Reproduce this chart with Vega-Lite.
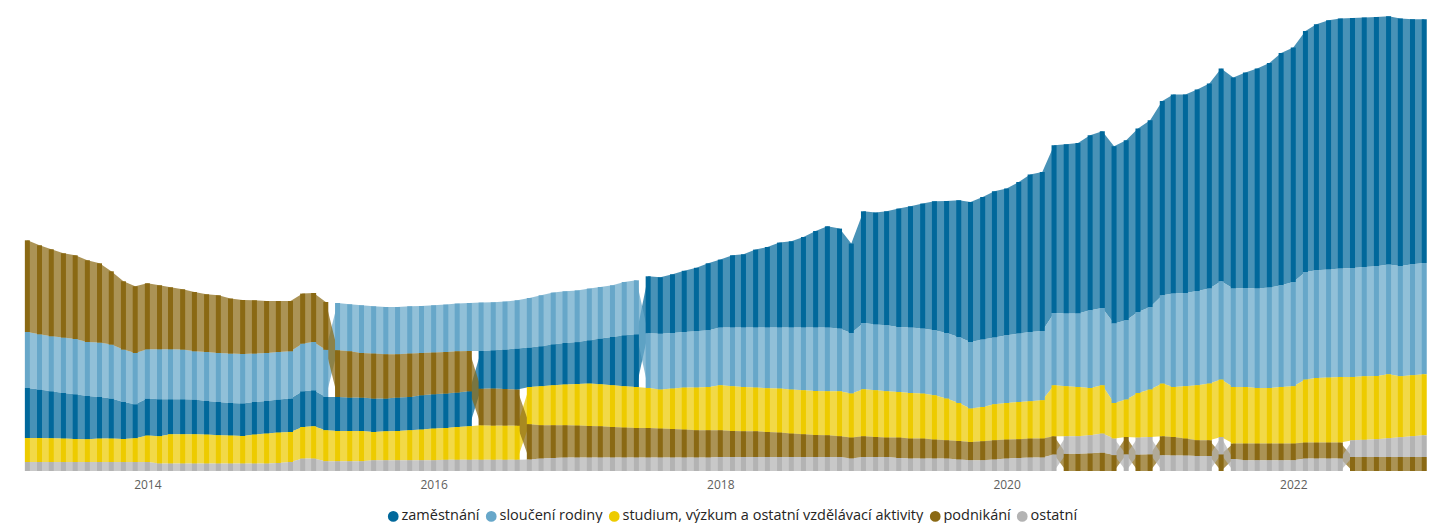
{
  "$schema": "https://vega.github.io/schema/vega-lite/v6.json",
  "width": 1432,
  "height": 471,
  "padding": 0,
  "autosize": {"type": "pad"},
  "background": "white",
  "config": {"view": {"stroke": null}},
  "data": {"values": [
    {"mesic": "2013/03/01", "zaměstnání": 50, "sloučení rodiny": 56, "studium, výzkum a ostatní vzdělávací aktivity": 24, "podnikání": 91.7, "ostatní": 9},
    {"mesic": "2013/04/01", "zaměstnání": 48.4, "sloučení rodiny": 55.3, "studium, výzkum a ostatní vzdělávací aktivity": 24, "podnikání": 89, "ostatní": 9},
    {"mesic": "2013/05/01", "zaměstnání": 47, "sloučení rodiny": 55, "studium, výzkum a ostatní vzdělávací aktivity": 23.7, "podnikání": 87, "ostatní": 9},
    {"mesic": "2013/06/01", "zaměstnání": 45.6, "sloučení rodiny": 55.4, "studium, výzkum a ostatní vzdělávací aktivity": 23.4, "podnikání": 84.3, "ostatní": 9},
    {"mesic": "2013/07/01", "zaměstnání": 44.7, "sloučení rodiny": 55.3, "studium, výzkum a ostatní vzdělávací aktivity": 23, "podnikání": 83.7, "ostatní": 9},
    {"mesic": "2013/08/01", "zaměstnání": 43.3, "sloučení rodiny": 54, "studium, výzkum a ostatní vzdělávací aktivity": 22.7, "podnikání": 81.7, "ostatní": 9},
    {"mesic": "2013/09/01", "zaměstnání": 41.6, "sloučení rodiny": 54.4, "studium, výzkum a ostatní vzdělávací aktivity": 23.4, "podnikání": 79.3, "ostatní": 9},
    {"mesic": "2013/10/01", "zaměstnání": 40, "sloučení rodiny": 54, "studium, výzkum a ostatní vzdělávací aktivity": 23.4, "podnikání": 73.3, "ostatní": 9},
    {"mesic": "2013/11/01", "zaměstnání": 37, "sloučení rodiny": 52.4, "studium, výzkum a ostatní vzdělávací aktivity": 23, "podnikání": 68.3, "ostatní": 9},
    {"mesic": "2013/12/01", "zaměstnání": 34, "sloučení rodiny": 51.3, "studium, výzkum a ostatní vzdělávací aktivity": 23.7, "podnikání": 66.7, "ostatní": 9},
    {"mesic": "2014/01/01", "zaměstnání": 37, "sloučení rodiny": 49.3, "studium, výzkum a ostatní vzdělávací aktivity": 26.4, "podnikání": 66, "ostatní": 9},
    {"mesic": "2014/02/01", "zaměstnání": 37, "sloučení rodiny": 50, "studium, výzkum a ostatní vzdělávací aktivity": 27.3, "podnikání": 64, "ostatní": 7.4},
    {"mesic": "2014/03/01", "zaměstnání": 35, "sloučení rodiny": 50, "studium, výzkum a ostatní vzdělávací aktivity": 29.3, "podnikání": 62, "ostatní": 7.4},
    {"mesic": "2014/04/01", "zaměstnání": 35, "sloučení rodiny": 49.7, "studium, výzkum a ostatní vzdělávací aktivity": 29.3, "podnikání": 60.3, "ostatní": 7.4},
    {"mesic": "2014/05/01", "zaměstnání": 34.7, "sloučení rodiny": 48.3, "studium, výzkum a ostatní vzdělávací aktivity": 29.3, "podnikání": 59.3, "ostatní": 7.4},
    {"mesic": "2014/06/01", "zaměstnání": 33.6, "sloučení rodiny": 49, "studium, výzkum a ostatní vzdělávací aktivity": 29, "podnikání": 57.7, "ostatní": 7.4},
    {"mesic": "2014/07/01", "zaměstnání": 33.3, "sloučení rodiny": 49, "studium, výzkum a ostatní vzdělávací aktivity": 28.3, "podnikání": 57.7, "ostatní": 7.4},
    {"mesic": "2014/08/01", "zaměstnání": 32.6, "sloučení rodiny": 49.4, "studium, výzkum a ostatní vzdělávací aktivity": 28, "podnikání": 55, "ostatní": 7.4},
    {"mesic": "2014/09/01", "zaměstnání": 32.6, "sloučení rodiny": 49.4, "studium, výzkum a ostatní vzdělávací aktivity": 27.6, "podnikání": 54, "ostatní": 7.4},
    {"mesic": "2014/10/01", "zaměstnání": 32.6, "sloučení rodiny": 48.4, "studium, výzkum a ostatní vzdělávací aktivity": 29, "podnikání": 53.3, "ostatní": 7.4},
    {"mesic": "2014/11/01", "zaměstnání": 32.6, "sloučení rodiny": 48, "studium, výzkum a ostatní vzdělávací aktivity": 30, "podnikání": 52, "ostatní": 7.4},
    {"mesic": "2014/12/01", "zaměstnání": 33, "sloučení rodiny": 47.6, "studium, výzkum a ostatní vzdělávací aktivity": 30.4, "podnikání": 51, "ostatní": 8},
    {"mesic": "2015/01/01", "zaměstnání": 33.4, "sloučení rodiny": 47.3, "studium, výzkum a ostatní vzdělávací aktivity": 30, "podnikání": 50.3, "ostatní": 9},
    {"mesic": "2015/02/01", "zaměstnání": 35.7, "sloučení rodiny": 47.7, "studium, výzkum a ostatní vzdělávací aktivity": 31.6, "podnikání": 50, "ostatní": 12.4},
    {"mesic": "2015/03/01", "zaměstnání": 36, "sloučení rodiny": 48.3, "studium, výzkum a ostatní vzdělávací aktivity": 32.3, "podnikání": 49, "ostatní": 12.4},
    {"mesic": "2015/04/01", "zaměstnání": 33.3, "sloučení rodiny": 47.2, "studium, výzkum a ostatní vzdělávací aktivity": 31, "podnikání": 47.8, "ostatní": 9.7},
    {"mesic": "2015/05/01", "zaměstnání": 34, "sloučení rodiny": 47.3, "studium, výzkum a ostatní vzdělávací aktivity": 30.3, "podnikání": 46.7, "ostatní": 9.7},
    {"mesic": "2015/06/01", "zaměstnání": 33.4, "sloučení rodiny": 47, "studium, výzkum a ostatní vzdělávací aktivity": 30.3, "podnikání": 46.3, "ostatní": 9.7},
    {"mesic": "2015/07/01", "zaměstnání": 33.4, "sloučení rodiny": 47.7, "studium, výzkum a ostatní vzdělávací aktivity": 30.3, "podnikání": 44.6, "ostatní": 9.7},
    {"mesic": "2015/08/01", "zaměstnání": 33.4, "sloučení rodiny": 47.3, "studium, výzkum a ostatní vzdělávací aktivity": 28.3, "podnikání": 45, "ostatní": 10.7},
    {"mesic": "2015/09/01", "zaměstnání": 32.7, "sloučení rodiny": 47.3, "studium, výzkum a ostatní vzdělávací aktivity": 29, "podnikání": 44.3, "ostatní": 10.7},
    {"mesic": "2015/10/01", "zaměstnání": 33.4, "sloučení rodiny": 47.3, "studium, výzkum a ostatní vzdělávací aktivity": 29.3, "podnikání": 43.3, "ostatní": 10.7},
    {"mesic": "2015/11/01", "zaměstnání": 33.3, "sloučení rodiny": 47.3, "studium, výzkum a ostatní vzdělávací aktivity": 30, "podnikání": 43.4, "ostatní": 10.7},
    {"mesic": "2015/12/01", "zaměstnání": 34.3, "sloučení rodiny": 47, "studium, výzkum a ostatní vzdělávací aktivity": 30.7, "podnikání": 42.3, "ostatní": 10.7},
    {"mesic": "2016/01/01", "zaměstnání": 34.3, "sloučení rodiny": 47.3, "studium, výzkum a ostatní vzdělávací aktivity": 31.7, "podnikání": 41.7, "ostatní": 10.7},
    {"mesic": "2016/02/01", "zaměstnání": 34.4, "sloučení rodiny": 47.4, "studium, výzkum a ostatní vzdělávací aktivity": 31.8, "podnikání": 41.6, "ostatní": 11.2},
    {"mesic": "2016/03/01", "zaměstnání": 34.4, "sloučení rodiny": 47.7, "studium, výzkum a ostatní vzdělávací aktivity": 32.8, "podnikání": 41.3, "ostatní": 11.2},
    {"mesic": "2016/04/01", "zaměstnání": 35, "sloučení rodiny": 48, "studium, výzkum a ostatní vzdělávací aktivity": 33.5, "podnikání": 40.3, "ostatní": 11.2},
    {"mesic": "2016/05/01", "zaměstnání": 37.8, "sloučení rodiny": 48.4, "studium, výzkum a ostatní vzdělávací aktivity": 34.5, "podnikání": 36.5, "ostatní": 11.2},
    {"mesic": "2016/06/01", "zaměstnání": 38.3, "sloučení rodiny": 48, "studium, výzkum a ostatní vzdělávací aktivity": 34.2, "podnikání": 37, "ostatní": 11.2},
    {"mesic": "2016/07/01", "zaměstnání": 39.4, "sloučení rodiny": 48, "studium, výzkum a ostatní vzdělávací aktivity": 34.2, "podnikání": 36.6, "ostatní": 11.2},
    {"mesic": "2016/08/01", "zaměstnání": 41, "sloučení rodiny": 48.3, "studium, výzkum a ostatní vzdělávací aktivity": 34.2, "podnikání": 36, "ostatní": 11.2},
    {"mesic": "2016/09/01", "zaměstnání": 39.4, "sloučení rodiny": 49.6, "studium, výzkum a ostatní vzdělávací aktivity": 37.3, "podnikání": 35.3, "ostatní": 11.4},
    {"mesic": "2016/10/01", "zaměstnání": 40, "sloučení rodiny": 51, "studium, výzkum a ostatní vzdělávací aktivity": 39, "podnikání": 33.3, "ostatní": 12.4},
    {"mesic": "2016/11/01", "zaměstnání": 41, "sloučení rodiny": 51.7, "studium, výzkum a ostatní vzdělávací aktivity": 40, "podnikání": 32.7, "ostatní": 13},
    {"mesic": "2016/12/01", "zaměstnání": 41.5, "sloučení rodiny": 51.7, "studium, výzkum a ostatní vzdělávací aktivity": 40.8, "podnikání": 32.3, "ostatní": 13.4},
    {"mesic": "2017/01/01", "zaměstnání": 42, "sloučení rodiny": 51.7, "studium, výzkum a ostatní vzdělávací aktivity": 41.5, "podnikání": 32, "ostatní": 13.4},
    {"mesic": "2017/02/01", "zaměstnání": 43.3, "sloučení rodiny": 51.7, "studium, výzkum a ostatní vzdělávací aktivity": 42.4, "podnikání": 31.6, "ostatní": 13.4},
    {"mesic": "2017/03/01", "zaměstnání": 45.7, "sloučení rodiny": 51.6, "studium, výzkum a ostatní vzdělávací aktivity": 42, "podnikání": 31.3, "ostatní": 13.4},
    {"mesic": "2017/04/01", "zaměstnání": 48.3, "sloučení rodiny": 51.7, "studium, výzkum a ostatní vzdělávací aktivity": 41.7, "podnikání": 30.6, "ostatní": 13.4},
    {"mesic": "2017/05/01", "zaměstnání": 51, "sloučení rodiny": 53.3, "studium, výzkum a ostatní vzdělávací aktivity": 41.3, "podnikání": 30, "ostatní": 13.4},
    {"mesic": "2017/06/01", "zaměstnání": 52.7, "sloučení rodiny": 54, "studium, výzkum a ostatní vzdělávací aktivity": 41, "podnikání": 29.6, "ostatní": 13.4},
    {"mesic": "2017/07/01", "zaměstnání": 57, "sloučení rodiny": 54.7, "studium, výzkum a ostatní vzdělávací aktivity": 40, "podnikání": 29.6, "ostatní": 13.4},
    {"mesic": "2017/08/01", "zaměstnání": 56.5, "sloučení rodiny": 55.8, "studium, výzkum a ostatní vzdělávací aktivity": 39, "podnikání": 29, "ostatní": 13.4},
    {"mesic": "2017/09/01", "zaměstnání": 58.7, "sloučení rodiny": 55.6, "studium, výzkum a ostatní vzdělávací aktivity": 40.4, "podnikání": 28.6, "ostatní": 13.4},
    {"mesic": "2017/10/01", "zaměstnání": 61.2, "sloučení rodiny": 55.6, "studium, výzkum a ostatní vzdělávací aktivity": 42, "podnikání": 28, "ostatní": 13.4},
    {"mesic": "2017/11/01", "zaměstnání": 63.5, "sloučení rodiny": 56.3, "studium, výzkum a ostatní vzdělávací aktivity": 42.7, "podnikání": 27.3, "ostatní": 13.4},
    {"mesic": "2017/12/01", "zaměstnání": 67, "sloučení rodiny": 56.7, "studium, výzkum a ostatní vzdělávací aktivity": 43.3, "podnikání": 27.3, "ostatní": 13.4},
    {"mesic": "2018/01/01", "zaměstnání": 68, "sloučení rodiny": 57.7, "studium, výzkum a ostatní vzdělávací aktivity": 45, "podnikání": 26.7, "ostatní": 14},
    {"mesic": "2018/02/01", "zaměstnání": 72.3, "sloučení rodiny": 58.7, "studium, výzkum a ostatní vzdělávací aktivity": 44.7, "podnikání": 26, "ostatní": 14},
    {"mesic": "2018/03/01", "zaměstnání": 73.3, "sloučení rodiny": 59.4, "studium, výzkum a ostatní vzdělávací aktivity": 44.3, "podnikání": 25.7, "ostatní": 14},
    {"mesic": "2018/04/01", "zaměstnání": 78, "sloučení rodiny": 60, "studium, výzkum a ostatní vzdělávací aktivity": 43.7, "podnikání": 25.7, "ostatní": 14},
    {"mesic": "2018/05/01", "zaměstnání": 80.6, "sloučení rodiny": 60.7, "studium, výzkum a ostatní vzdělávací aktivity": 43.7, "podnikání": 25, "ostatní": 14},
    {"mesic": "2018/06/01", "zaměstnání": 85, "sloučení rodiny": 61, "studium, výzkum a ostatní vzdělávací aktivity": 44, "podnikání": 24.4, "ostatní": 14},
    {"mesic": "2018/07/01", "zaměstnání": 86.3, "sloučení rodiny": 62, "studium, výzkum a ostatní vzdělávací aktivity": 44, "podnikání": 23.4, "ostatní": 14},
    {"mesic": "2018/08/01", "zaměstnání": 90.6, "sloučení rodiny": 62.7, "studium, výzkum a ostatní vzdělávací aktivity": 44, "podnikání": 22.7, "ostatní": 14},
    {"mesic": "2018/09/01", "zaměstnání": 96.6, "sloučení rodiny": 63.4, "studium, výzkum a ostatní vzdělávací aktivity": 44, "podnikání": 22, "ostatní": 14},
    {"mesic": "2018/10/01", "zaměstnání": 101.3, "sloučení rodiny": 63.7, "studium, výzkum a ostatní vzdělávací aktivity": 44, "podnikání": 21.7, "ostatní": 14},
    {"mesic": "2018/11/01", "zaměstnání": 100, "sloučení rodiny": 62.7, "studium, výzkum a ostatní vzdělávací aktivity": 45, "podnikání": 20.7, "ostatní": 14},
    {"mesic": "2018/12/01", "zaměstnání": 89.4, "sloučení rodiny": 60.6, "studium, výzkum a ostatní vzdělávací aktivity": 44, "podnikání": 21, "ostatní": 12.4},
    {"mesic": "2019/01/01", "zaměstnání": 111.7, "sloučení rodiny": 66.3, "studium, výzkum a ostatní vzdělávací aktivity": 47, "podnikání": 20.7, "ostatní": 14},
    {"mesic": "2019/02/01", "zaměstnání": 112, "sloučení rodiny": 65.7, "studium, výzkum a ostatní vzdělávací aktivity": 46.7, "podnikání": 20, "ostatní": 14},
    {"mesic": "2019/03/01", "zaměstnání": 114, "sloučení rodiny": 66, "studium, výzkum a ostatní vzdělávací aktivity": 46.3, "podnikání": 19.4, "ostatní": 14},
    {"mesic": "2019/04/01", "zaměstnání": 118.4, "sloučení rodiny": 65, "studium, výzkum a ostatní vzdělávací aktivity": 45.6, "podnikání": 20.4, "ostatní": 13},
    {"mesic": "2019/05/01", "zaměstnání": 121.3, "sloučení rodiny": 65.4, "studium, výzkum a ostatní vzdělávací aktivity": 45.6, "podnikání": 20, "ostatní": 12.4},
    {"mesic": "2019/06/01", "zaměstnání": 125, "sloučení rodiny": 65, "studium, výzkum a ostatní vzdělávací aktivity": 45, "podnikání": 20, "ostatní": 12.4},
    {"mesic": "2019/07/01", "zaměstnání": 129, "sloučení rodiny": 65, "studium, výzkum a ostatní vzdělávací aktivity": 44.3, "podnikání": 19, "ostatní": 12.4},
    {"mesic": "2019/08/01", "zaměstnání": 132, "sloučení rodiny": 65.6, "studium, výzkum a ostatní vzdělávací aktivity": 41.7, "podnikání": 18.3, "ostatní": 12.4},
    {"mesic": "2019/09/01", "zaměstnání": 136.7, "sloučení rodiny": 66, "studium, výzkum a ostatní vzdělávací aktivity": 38, "podnikání": 18.6, "ostatní": 11.4},
    {"mesic": "2019/10/01", "zaměstnání": 140, "sloučení rodiny": 66.6, "studium, výzkum a ostatní vzdělávací aktivity": 33.4, "podnikání": 18.3, "ostatní": 10.7},
    {"mesic": "2019/11/01", "zaměstnání": 142.6, "sloučení rodiny": 67.4, "studium, výzkum a ostatní vzdělávací aktivity": 34.3, "podnikání": 19, "ostatní": 10.7},
    {"mesic": "2019/12/01", "zaměstnání": 146.3, "sloučení rodiny": 66.7, "studium, výzkum a ostatní vzdělávací aktivity": 36, "podnikání": 19.3, "ostatní": 11.4},
    {"mesic": "2020/01/01", "zaměstnání": 146.7, "sloučení rodiny": 67.7, "studium, výzkum a ostatní vzdělávací aktivity": 36.6, "podnikání": 19, "ostatní": 12.4},
    {"mesic": "2020/02/01", "zaměstnání": 151.6, "sloučení rodiny": 68.4, "studium, výzkum a ostatní vzdělávací aktivity": 37.3, "podnikání": 18.7, "ostatní": 13},
    {"mesic": "2020/03/01", "zaměstnání": 157.4, "sloučení rodiny": 69.3, "studium, výzkum a ostatní vzdělávací aktivity": 37.3, "podnikání": 19, "ostatní": 13.4},
    {"mesic": "2020/04/01", "zaměstnání": 159, "sloučení rodiny": 69.3, "studium, výzkum a ostatní vzdělávací aktivity": 38.3, "podnikání": 19, "ostatní": 13.4},
    {"mesic": "2020/05/01", "zaměstnání": 167.7, "sloučení rodiny": 72.3, "studium, výzkum a ostatní vzdělávací aktivity": 51, "podnikání": 18.3, "ostatní": 16.4},
    {"mesic": "2020/06/01", "zaměstnání": 169.3, "sloučení rodiny": 72.7, "studium, výzkum a ostatní vzdělávací aktivity": 50, "podnikání": 17.2, "ostatní": 17.5},
    {"mesic": "2020/07/01", "zaměstnání": 170.6, "sloučení rodiny": 73.4, "studium, výzkum a ostatní vzdělávací aktivity": 49.3, "podnikání": 17.2, "ostatní": 17.5},
    {"mesic": "2020/08/01", "zaměstnání": 175, "sloučení rodiny": 77.7, "studium, výzkum a ostatní vzdělávací aktivity": 47.3, "podnikání": 17.7, "ostatní": 18},
    {"mesic": "2020/09/01", "zaměstnání": 176.7, "sloučení rodiny": 77.3, "studium, výzkum a ostatní vzdělávací aktivity": 48.3, "podnikání": 18.4, "ostatní": 19},
    {"mesic": "2020/10/01", "zaměstnání": 177.3, "sloučení rodiny": 79.4, "studium, výzkum a ostatní vzdělávací aktivity": 35.6, "podnikání": 15.9, "ostatní": 16.5},
    {"mesic": "2020/11/01", "zaměstnání": 180, "sloučení rodiny": 79.3, "studium, výzkum a ostatní vzdělávací aktivity": 37.4, "podnikání": 17.5, "ostatní": 16.5},
    {"mesic": "2020/12/01", "zaměstnání": 183.4, "sloučení rodiny": 81, "studium, výzkum a ostatní vzdělávací aktivity": 44.6, "podnikání": 16.4, "ostatní": 17},
    {"mesic": "2021/01/01", "zaměstnání": 186.7, "sloučení rodiny": 82.6, "studium, výzkum a ostatní vzdělávací aktivity": 47.4, "podnikání": 16.7, "ostatní": 17.3},
    {"mesic": "2021/02/01", "zaměstnání": 194.3, "sloučení rodiny": 88.3, "studium, výzkum a ostatní vzdělávací aktivity": 52.7, "podnikání": 19, "ostatní": 15.7},
    {"mesic": "2021/03/01", "zaměstnání": 199, "sloučení rodiny": 93.4, "studium, výzkum a ostatní vzdělávací aktivity": 50, "podnikání": 18.5, "ostatní": 15.5},
    {"mesic": "2021/04/01", "zaměstnání": 198.4, "sloučení rodiny": 93.3, "studium, výzkum a ostatní vzdělávací aktivity": 52.3, "podnikání": 17, "ostatní": 15.4},
    {"mesic": "2021/05/01", "zaměstnání": 201.4, "sloučení rodiny": 94.3, "studium, výzkum a ostatní vzdělávací aktivity": 55, "podnikání": 15.7, "ostatní": 15},
    {"mesic": "2021/06/01", "zaměstnání": 205, "sloučení rodiny": 95, "studium, výzkum a ostatní vzdělávací aktivity": 56.7, "podnikání": 15.7, "ostatní": 15},
    {"mesic": "2021/07/01", "zaměstnání": 212.7, "sloučení rodiny": 98.3, "studium, výzkum a ostatní vzdělávací aktivity": 57.4, "podnikání": 16.7, "ostatní": 17.3},
    {"mesic": "2021/08/01", "zaměstnání": 211, "sloučení rodiny": 98.4, "studium, výzkum a ostatní vzdělávací aktivity": 56.6, "podnikání": 15.4, "ostatní": 12},
    {"mesic": "2021/09/01", "zaměstnání": 215.4, "sloučení rodiny": 99, "studium, výzkum a ostatní vzdělávací aktivity": 56.6, "podnikání": 16.7, "ostatní": 10.7},
    {"mesic": "2021/10/01", "zaměstnání": 220, "sloučení rodiny": 99.4, "studium, výzkum a ostatní vzdělávací aktivity": 55.6, "podnikání": 16.7, "ostatní": 10.7},
    {"mesic": "2021/11/01", "zaměstnání": 224.6, "sloučení rodiny": 100.4, "studium, výzkum a ostatní vzdělávací aktivity": 55.6, "podnikání": 16.7, "ostatní": 10.7},
    {"mesic": "2021/12/01", "zaměstnání": 232.3, "sloučení rodiny": 101.7, "studium, výzkum a ostatní vzdělávací aktivity": 56.6, "podnikání": 16.7, "ostatní": 10.7},
    {"mesic": "2022/01/01", "zaměstnání": 234.4, "sloučení rodiny": 104.3, "studium, výzkum a ostatní vzdělávací aktivity": 57.3, "podnikání": 16.7, "ostatní": 10.7},
    {"mesic": "2022/02/01", "zaměstnání": 241, "sloučení rodiny": 107.6, "studium, výzkum a ostatní vzdělávací aktivity": 63, "podnikání": 16, "ostatní": 12.4},
    {"mesic": "2022/03/01", "zaměstnání": 246, "sloučení rodiny": 107.7, "studium, výzkum a ostatní vzdělávací aktivity": 64.6, "podnikání": 16, "ostatní": 12.4},
    {"mesic": "2022/04/01", "zaměstnání": 249.3, "sloučení rodiny": 108, "studium, výzkum a ostatní vzdělávací aktivity": 65, "podnikání": 16, "ostatní": 12.4},
    {"mesic": "2022/05/01", "zaměstnání": 250, "sloučení rodiny": 108.4, "studium, výzkum a ostatní vzdělávací aktivity": 65.6, "podnikání": 16, "ostatní": 12.4},
    {"mesic": "2022/06/01", "zaměstnání": 250, "sloučení rodiny": 109, "studium, výzkum a ostatní vzdělávací aktivity": 63.3, "podnikání": 14, "ostatní": 16.7},
    {"mesic": "2022/07/01", "zaměstnání": 249.4, "sloučení rodiny": 109.3, "studium, výzkum a ostatní vzdělávací aktivity": 63.5, "podnikání": 14, "ostatní": 17.2},
    {"mesic": "2022/08/01", "zaměstnání": 249.3, "sloučení rodiny": 109.7, "studium, výzkum a ostatní vzdělávací aktivity": 63.3, "podnikání": 14, "ostatní": 17.7},
    {"mesic": "2022/09/01", "zaměstnání": 248.3, "sloučení rodiny": 109.7, "studium, výzkum a ostatní vzdělávací aktivity": 64, "podnikání": 14, "ostatní": 18.7},
    {"mesic": "2022/10/01", "zaměstnání": 247.4, "sloučení rodiny": 110.3, "studium, výzkum a ostatní vzdělávací aktivity": 61, "podnikání": 14, "ostatní": 19.7},
    {"mesic": "2022/11/01", "zaměstnání": 245, "sloučení rodiny": 111, "studium, výzkum a ostatní vzdělávací aktivity": 61, "podnikání": 14, "ostatní": 20.7},
    {"mesic": "2022/12/01", "zaměstnání": 243.7, "sloučení rodiny": 111.3, "studium, výzkum a ostatní vzdělávací aktivity": 61, "podnikání": 14, "ostatní": 21.7}
  ]},
  "transform": [
    {"fold": ["zaměstnání", "sloučení rodiny", "studium, výzkum a ostatní vzdělávací aktivity", "podnikání", "ostatní"], "as": ["kategorie", "pocet"]},
    {"stack": "pocet", "groupby": ["mesic"], "sort": [{"field": "pocet", "order": "ascending"}], "as": ["y0", "y1"]}
  ],
  "encoding": {
    "x": {
      "field": "mesic",
      "type": "temporal",
      "scale": {"domain": [{"year": 2013, "month": 1, "date": 3}, {"year": 2022, "month": 12, "date": 8}]},
      "axis": {
        "title": null,
        "values": [{"year": 2014}, {"year": 2016}, {"year": 2018}, {"year": 2020}, {"year": 2022}],
        "format": "%Y",
        "domain": false,
        "ticks": false,
        "grid": false,
        "labelPadding": 8,
        "labelFont": "Open Sans",
        "labelFontSize": 12,
        "labelColor": "#605E5C"
      }
    },
    "y": {"field": "y1", "type": "quantitative", "stack": null, "scale": {"domain": [0, 471], "nice": false, "zero": true}, "axis": null},
    "y2": {"field": "y0"},
    "color": {
      "field": "kategorie",
      "type": "nominal",
      "scale": {
        "domain": ["zaměstnání", "sloučení rodiny", "studium, výzkum a ostatní vzdělávací aktivity", "podnikání", "ostatní"],
        "range": ["#01689B", "#67A7C9", "#EDCB00", "#8A6914", "#B3B3B3"]
      },
      "legend": {
        "title": null,
        "orient": "none",
        "legendX": 386,
        "legendY": 509,
        "direction": "horizontal",
        "symbolType": "circle",
        "symbolSize": 115,
        "symbolOpacity": 1,
        "symbolStrokeWidth": 0,
        "labelFont": "Open Sans",
        "labelFontSize": 14.5,
        "labelLimit": 0,
        "labelColor": "#252423",
        "labelOffset": 1,
        "columnPadding": 4
      }
    }
  },
  "layer": [
    {"mark": {"type": "area", "opacity": 0.72, "interpolate": "linear"}},
    {"mark": {"type": "bar", "width": 5}}
  ]
}
